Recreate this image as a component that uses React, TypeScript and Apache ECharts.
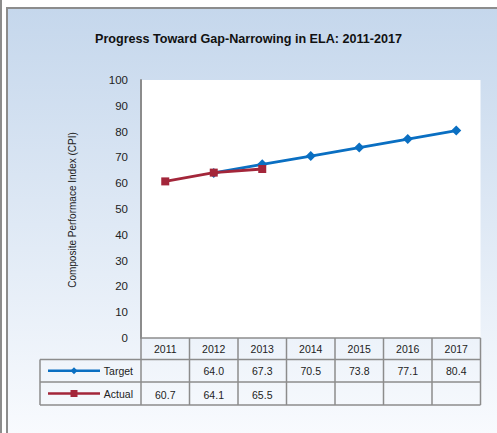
import React, { useEffect, useRef } from "react";
import * as echarts from "echarts";

const years = ["2011", "2012", "2013", "2014", "2015", "2016", "2017"];
const targetValues: (number | null)[] = [null, 64.0, 67.3, 70.5, 73.8, 77.1, 80.4];
const actualValues: (number | null)[] = [60.7, 64.1, 65.5, null, null, null, null];
const seriesNames = ["Target", "Actual"];
const titleText = "Progress Toward Gap-Narrowing in ELA: 2011-2017";
const yAxisTitle = "Composite Performace Index (CPI)";

const W = 497;
const H = 433;
const PLOT_L = 141;
const PLOT_R = 480.5;
const PLOT_T = 80;
const PLOT_B = 338;
const ROW1_B = 359.5;
const ROW2_B = 382;
const ROW3_B = 405;
const LEG_L = 40;
const BLUE = "#0a6fc2";
const RED = "#a3263a";
const GRAY = "#8c8c8c";
const FONT = "Liberation Sans, Arial, sans-serif";

export default function App() {
  const ref = useRef<HTMLDivElement>(null);
  useEffect(() => {
    if (!ref.current) return;
    const chart = echarts.init(ref.current, null, { renderer: "svg" });
    const colW = (PLOT_R - PLOT_L) / years.length;
    const g: any[] = [];
    g.push({
      type: "rect",
      shape: { x: 0, y: 0, width: W, height: H },
      style: { fill: "#ffffff" },
      z: -10,
    });
    g.push({
      type: "rect",
      shape: { x: 7, y: 8, width: W, height: H },
      style: {
        fill: new echarts.graphic.LinearGradient(0, 0, 0, 1, [
          { offset: 0, color: "#c5d7ec" },
          { offset: 1, color: "#f9fbfe" },
        ]),
        stroke: GRAY,
        lineWidth: 2,
      },
      z: -9,
    });
    g.push({
      type: "line",
      shape: { x1: 1, y1: 0, x2: 1, y2: H },
      style: { stroke: GRAY, lineWidth: 2 },
      z: -9,
    });
    g.push({
      type: "rect",
      shape: { x: PLOT_L, y: PLOT_T, width: PLOT_R - PLOT_L, height: PLOT_B - PLOT_T },
      style: { fill: "#ffffff" },
      z: -8,
    });
    g.push({
      type: "text",
      x: 72,
      y: 210,
      rotation: Math.PI / 2,
      style: {
        text: yAxisTitle,
        fontSize: 10,
        fontFamily: FONT,
        fill: "#222",
        align: "center",
        verticalAlign: "middle",
      },
    });
    const hl = (y: number, x1: number, x2: number) =>
      g.push({ type: "line", shape: { x1, y1: y, x2, y2: y }, style: { stroke: GRAY, lineWidth: 1.5 }, z: 5 });
    const vl = (x: number, y1: number, y2: number) =>
      g.push({ type: "line", shape: { x1: x, y1, x2: x, y2 }, style: { stroke: GRAY, lineWidth: 1.5 }, z: 5 });
    hl(PLOT_B, PLOT_L, PLOT_R);
    hl(ROW1_B, LEG_L, PLOT_R);
    hl(ROW2_B, LEG_L, PLOT_R);
    hl(ROW3_B, LEG_L, PLOT_R);
    vl(LEG_L, ROW1_B, ROW3_B);
    for (let i = 0; i <= years.length; i++) vl(PLOT_L + i * colW, PLOT_B, ROW3_B);
    const cellText = (text: string, x: number, y: number) =>
      g.push({
        type: "text",
        x,
        y,
        style: { text, fontSize: 10.5, fontFamily: FONT, fill: "#222", align: "center", verticalAlign: "middle" },
        z: 6,
      });
    years.forEach((yr, i) => {
      const cx = PLOT_L + (i + 0.5) * colW;
      cellText(yr, cx, (PLOT_B + ROW1_B) / 2 + 0.5);
      const t = targetValues[i];
      if (t != null) cellText(t.toFixed(1), cx, (ROW1_B + ROW2_B) / 2 + 0.5);
      const a = actualValues[i];
      if (a != null) cellText(a.toFixed(1), cx, (ROW2_B + ROW3_B) / 2 + 1);
    });
    const legRows = [
      { name: seriesNames[0], color: BLUE, y: (ROW1_B + ROW2_B) / 2, marker: "diamond" },
      { name: seriesNames[1], color: RED, y: (ROW2_B + ROW3_B) / 2, marker: "square" },
    ];
    legRows.forEach((r) => {
      g.push({
        type: "line",
        shape: { x1: 48, y1: r.y, x2: 100, y2: r.y },
        style: { stroke: r.color, lineWidth: 2.5 },
        z: 6,
      });
      if (r.marker === "diamond") {
        g.push({
          type: "polygon",
          shape: { points: [[74, r.y - 3.5], [77.5, r.y], [74, r.y + 3.5], [70.5, r.y]] },
          style: { fill: r.color },
          z: 7,
        });
      } else {
        g.push({
          type: "rect",
          shape: { x: 70.5, y: r.y - 3.5, width: 7, height: 7 },
          style: { fill: r.color },
          z: 7,
        });
      }
      g.push({
        type: "text",
        x: 133,
        y: r.y + 0.5,
        style: { text: r.name, fontSize: 10.5, fontFamily: FONT, fill: "#222", align: "right", verticalAlign: "middle" },
        z: 6,
      });
    });

    chart.setOption({
      animation: false,
      title: {
        text: titleText,
        left: "center",
        top: 27,
        textStyle: { fontSize: 12.6, fontWeight: "bold", fontFamily: FONT, color: "#111" },
      },
      grid: { left: PLOT_L, right: W - PLOT_R, top: PLOT_T, bottom: H - PLOT_B },
      xAxis: {
        type: "category",
        data: years,
        boundaryGap: true,
        axisLine: { show: false },
        axisTick: { show: false },
        axisLabel: { show: false },
        splitLine: { show: false },
      },
      yAxis: {
        type: "value",
        min: 0,
        max: 100,
        interval: 10,
        axisLine: { show: true, lineStyle: { color: GRAY, width: 2 } },
        axisTick: { show: false },
        splitLine: { show: false },
        axisLabel: { fontSize: 11.5, fontFamily: FONT, color: "#222", margin: 13 },
      },
      graphic: g,
      series: [
        {
          name: seriesNames[0],
          type: "line",
          data: targetValues,
          symbol: "diamond",
          symbolSize: 10,
          lineStyle: { color: BLUE, width: 2.8 },
          itemStyle: { color: BLUE },
          z: 3,
        },
        {
          name: seriesNames[1],
          type: "line",
          data: actualValues,
          symbol: "rect",
          symbolSize: 8,
          lineStyle: { color: RED, width: 2.8 },
          itemStyle: { color: RED },
          z: 4,
        },
      ],
    });
    return () => chart.dispose();
  }, []);
  return (
    <div
      ref={ref}
      style={{ position: "absolute", left: 0, top: 0, width: W, height: H }}
    />
  );
}
